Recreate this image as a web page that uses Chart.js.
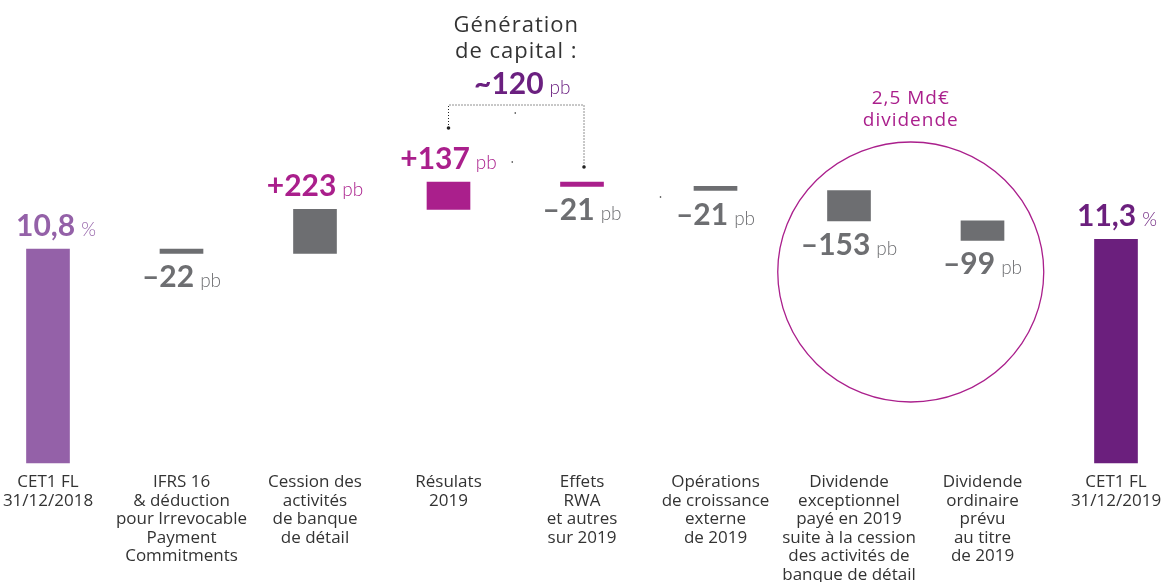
<!DOCTYPE html>
<html>
<head>
<meta charset="utf-8">
<script src="https://cdn.jsdelivr.net/npm/chart.js@4"></script>
<style>
  html, body { margin: 0; padding: 0; background: #fff; }
  #wrap { width: 1164px; height: 582px; }
</style>
</head>
<body>
<div id="wrap"><canvas id="cet1Chart"></canvas></div>
<script>
const categories = [
    ['CET1 FL', '31/12/2018'],
    ['IFRS 16', '& déduction', 'pour Irrevocable', 'Payment', 'Commitments'],
    ['Cession des', 'activités', 'de banque', 'de détail'],
    ['Résulats', '2019'],
    ['Effets', 'RWA', 'et autres', 'sur 2019'],
    ['Opérations', 'de croissance', 'externe', 'de 2019'],
    ['Dividende', 'exceptionnel', 'payé en 2019', 'suite à la cession', 'des activités de', 'banque de détail'],
    ['Dividende', 'ordinaire', 'prévu', 'au titre', 'de 2019'],
    ['CET1 FL', '31/12/2019']
];
// pb
const startRatio = 1080;
const variations = [-22, 223, 137, -21, -21, -153, -99];
const endRatio = 1130;
const capitalGeneration = 120;

const valueLabels = ['10,8', '–22', '+223', '+137', '–21', '–21', '–153', '–99', '11,3'];
const valueUnits = ['%', 'pb', 'pb', 'pb', 'pb', 'pb', 'pb', 'pb', '%'];

const barColors = ['#9461A8', '#6D6E71', '#6D6E71', '#AA1F8C', '#AA1F8C', '#6D6E71', '#6D6E71', '#6D6E71', '#6B1F7D'];
const labelColors = ['#9461A8', '#6D6E71', '#AA1F8C', '#AA1F8C', '#6D6E71', '#6D6E71', '#6D6E71', '#6D6E71', '#6B1F7D'];

// floating bars [from, to]
const bars = [[0, startRatio]];
let level = startRatio;
variations.forEach(function (v) {
    bars.push([level, level + v]);
    level += v;
});
bars.push([0, endRatio]);

const FONT = '"Open Sans", sans-serif';
const NUM_FONT = 'Lato, sans-serif';

function valueText(ctx, num, unit, cx, base, color) {
    ctx.font = 'bold 30px ' + NUM_FONT;
    const w1 = ctx.measureText(num).width;
    ctx.font = '300 19px ' + NUM_FONT;
    const w2 = ctx.measureText(unit).width;
    const gap = 6;
    const left = cx - (w1 + gap + w2) / 2;
    ctx.fillStyle = color;
    ctx.textAlign = 'left';
    ctx.font = 'bold 30px ' + NUM_FONT;
    ctx.fillText(num, left, base);
    ctx.font = '300 19px ' + NUM_FONT;
    ctx.fillText(unit, left + w1 + gap, base);
}

function dot(ctx, px, py, r) {
    ctx.beginPath();
    ctx.arc(px, py, r, 0, Math.PI * 2);
    ctx.fill();
}

const overlay = {
    id: 'overlay',
    afterDatasetsDraw(chart) {
        const ctx = chart.ctx;
        const x = chart.scales.x;
        const y = chart.scales.y;
        ctx.save();
        ctx.textBaseline = 'alphabetic';

        // value labels
        bars.forEach(function (b, i) {
            const top = y.getPixelForValue(Math.max(b[0], b[1]));
            const bottom = y.getPixelForValue(Math.min(b[0], b[1]));
            const up = i === 0 || i === bars.length - 1 || variations[i - 1] > 0;
            const base = up ? top - 13 : bottom + 34;
            let cx = x.getPixelForValue(i);
            if (i === 0) cx += 8;
            if (i === bars.length - 1) cx += 1;
            valueText(ctx, valueLabels[i], valueUnits[i], cx, base, labelColors[i]);
        });

        // capital generation bracket
        const xa = x.getPixelForValue(3);
        const xb = x.getPixelForValue(4) + 2;
        const mid = (xa + xb) / 2;
        ctx.strokeStyle = '#222';
        ctx.lineWidth = 1;
        ctx.setLineDash([1, 2]);
        ctx.beginPath();
        ctx.moveTo(xa, 128);
        ctx.lineTo(xa, 105);
        ctx.lineTo(xb, 105);
        ctx.lineTo(xb, 167);
        ctx.stroke();
        ctx.setLineDash([]);
        ctx.fillStyle = '#222';
        dot(ctx, xa, 128, 1.8);
        dot(ctx, xb, 167, 1.8);
        dot(ctx, mid - 1, 113, 0.8);
        dot(ctx, mid - 4, 162, 0.8);
        dot(ctx, x.getPixelForValue(5) - 55, 197, 0.8);

        ctx.textAlign = 'center';
        ctx.fillStyle = '#333';
        ctx.font = '22px ' + FONT;
        ctx.letterSpacing = '1px';
        ctx.fillText('Génération', mid, 32);
        ctx.fillText('de capital :', mid, 58);
        ctx.letterSpacing = '0px';

        valueText(ctx, '~' + capitalGeneration, 'pb', mid + 6, 94, '#6B2080');

        // dividend ellipse
        const cx = (x.getPixelForValue(6) + x.getPixelForValue(7)) / 2 - 5;
        ctx.strokeStyle = '#AA1F8C';
        ctx.lineWidth = 1.3;
        ctx.beginPath();
        ctx.ellipse(cx, 272, 133, 130, 0, 0, Math.PI * 2);
        ctx.stroke();
        ctx.textAlign = 'center';
        ctx.fillStyle = '#AA1F8C';
        ctx.font = '19px ' + FONT;
        ctx.letterSpacing = '1px';
        ctx.fillText('2,5 Md€', cx, 104);
        ctx.fillText('dividende', cx, 126);
        ctx.letterSpacing = '0px';

        ctx.restore();
    }
};

const config = {
    type: 'bar',
    data: {
        labels: categories,
        datasets: [{
            data: bars,
            backgroundColor: barColors,
            borderWidth: 0,
            borderSkipped: false,
            barThickness: 43,
            clip: false
        }]
    },
    options: {
        responsive: true,
        maintainAspectRatio: false,
        animation: false,
        layout: {
            padding: { left: 48, right: 48, top: 0, bottom: 0 }
        },
        plugins: {
            legend: { display: false },
            tooltip: { enabled: false }
        },
        scales: {
            x: {
                offset: false,
                grid: { display: false, drawTicks: false },
                border: { display: false },
                ticks: {
                    color: '#333',
                    font: { family: FONT, size: 17, lineHeight: 1.09 },
                    maxRotation: 0,
                    autoSkip: false,
                    padding: 10
                },
                afterFit: function (scale) {
                    scale.paddingLeft = 0;
                    scale.paddingRight = 0;
                    scale.height = 119;
                }
            },
            y: {
                display: false,
                min: 0,
                max: 2338
            }
        }
    },
    plugins: [overlay]
};

var cet1Chart = new Chart(
    document.getElementById('cet1Chart'),
    config
);
</script>
</body>
</html>
